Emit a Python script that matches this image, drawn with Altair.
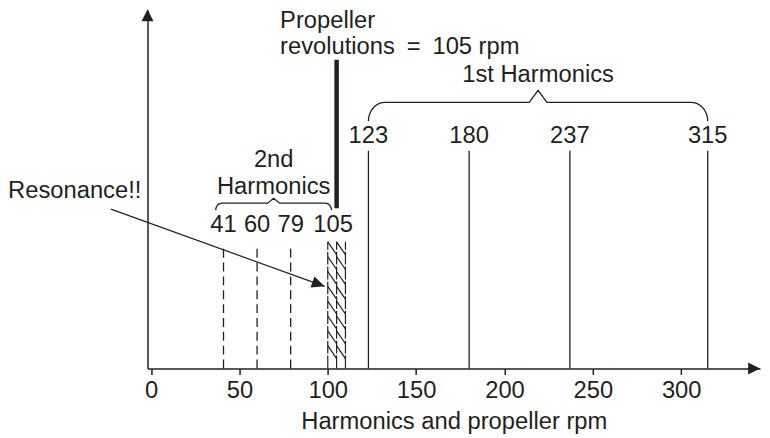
import altair as alt
import pandas as pd
import numpy as np

# ---------------- data ----------------
first_harmonics = [123, 180, 237, 315]
second_harmonics = [41, 60, 79]
second_labels = [41, 60, 79, 105]
propeller_rpm = 105
resonance_band = [100, 110]
x_ticks = [0, 50, 100, 150, 200, 250, 300]
x_title = "Harmonics and propeller rpm"

# ---------------- styling / layout ----------------
FONT = "Liberation Sans"
FS = 24
INK = "#231f20"
X_MIN, X_MAX = -2, 344.6
Y_MIN, Y_MAX = 0, 362
W, H = 619, 362
KX = W / (X_MAX - X_MIN)  # px per x unit (y: 1 px per unit)

xscale = alt.Scale(domain=[X_MIN, X_MAX], nice=False, zero=False)
yscale = alt.Scale(domain=[Y_MIN, Y_MAX], nice=False, zero=False)
xaxis = alt.Axis(values=x_ticks, title=x_title, grid=False, domainColor=INK,
                 domainWidth=1.5, tickColor=INK, tickWidth=1.5, tickSize=6,
                 labelFont=FONT, labelFontSize=FS, labelColor=INK, labelPadding=4,
                 labelFlush=False, labelOverlap=False, titleFont=FONT,
                 titleFontSize=FS, titleFontWeight="normal", titleColor=INK,
                 titlePadding=8, format="d")
yaxis = alt.Axis(ticks=False, labels=False, grid=False, title=None,
                 domainColor=INK, domainWidth=1.5)


def X(f="x"):
    return alt.X(f, type="quantitative", scale=xscale, axis=xaxis)


def Y(f="y"):
    return alt.Y(f, type="quantitative", scale=yscale, axis=yaxis)


def text_layer(df, align):
    return alt.Chart(df).mark_text(font=FONT, fontSize=FS, color=INK, align=align,
                                   baseline="alphabetic").encode(x=X(), y=Y(), text="t:N")


layers = []

# 1st harmonics
df1 = pd.DataFrame({"x": first_harmonics, "y": 0, "y2": 220})
layers.append(alt.Chart(df1).mark_rule(color=INK, strokeWidth=1.3)
              .encode(x=X(), y=Y(), y2=alt.Y2("y2")))
layers.append(text_layer(pd.DataFrame({"x": first_harmonics, "y": 228,
                                       "t": [str(v) for v in first_harmonics]}), "center"))

# 2nd harmonics (dashed)
df2 = pd.DataFrame({"x": second_harmonics, "y": 0, "y2": 122})
layers.append(alt.Chart(df2).mark_rule(color=INK, strokeWidth=1.3, strokeDash=[9, 5])
              .encode(x=X(), y=Y(), y2=alt.Y2("y2")))
layers.append(text_layer(pd.DataFrame({"x": [41, 60, 79, 103], "y": 138,
                                       "t": [str(v) for v in second_labels]}), "center"))

# propeller line
dfp = pd.DataFrame({"x": [propeller_rpm], "y": 162, "y2": 312})
layers.append(alt.Chart(dfp).mark_rule(color=INK, strokeWidth=4.5)
              .encode(x=X(), y=Y(), y2=alt.Y2("y2")))

# hatched resonance band
b0, b1 = resonance_band
bm = (b0 + b1) / 2
hv = pd.DataFrame({"x": [b0, bm, b1], "y": 0, "y2": 128})
layers.append(alt.Chart(hv).mark_rule(color=INK, strokeWidth=1.2, strokeDash=[13, 2])
              .encode(x=X(), y=Y(), y2=alt.Y2("y2")))
rows = []
top = 128
while top - 13 >= 0:
    for cl, cr in [(b0, bm), (bm, b1)]:
        rows.append({"x": cl, "x2": cr, "y": top, "y2": top - 13})
    top -= 15
layers.append(alt.Chart(pd.DataFrame(rows)).mark_rule(color=INK, strokeWidth=1.2)
              .encode(x=X(), x2=alt.X2("x2"), y=Y(), y2=alt.Y2("y2")))


# braces
def brace(bid, xa, xb, y_end, y_mid, y_peak, rx, pw, n=10):
    pts = []
    ry = y_mid - y_end
    xc = (xa + xb) / 2
    for t in np.linspace(0, np.pi / 2, n):
        pts.append((xa + rx * (1 - np.cos(t)), y_end + ry * np.sin(t)))
    pts += [(xc - pw, y_mid), (xc, y_peak), (xc + pw, y_mid)]
    for t in np.linspace(np.pi / 2, 0, n):
        pts.append((xb - rx * (1 - np.cos(t)), y_end + ry * np.sin(t)))
    return [{"b": bid, "o": i, "x": px, "y": py} for i, (px, py) in enumerate(pts)]


br = brace("first", first_harmonics[0], first_harmonics[-1], 250, 269, 281, 9.5, 5)
br += brace("second", 36.6, 102.1, 160, 167, 172, 3.5, 3.4)
layers.append(alt.Chart(pd.DataFrame(br)).mark_line(color=INK, strokeWidth=1.3)
              .encode(x=X(), y=Y(), order="o:Q", detail="b:N"))

# texts
layers.append(text_layer(pd.DataFrame({
    "x": [219, 69.4, 69.4],
    "y": [290, 204, 176],
    "t": ["1st Harmonics", "2nd", "Harmonics"]}), "center"))
layers.append(text_layer(pd.DataFrame({
    "x": [73.0, 73.0, -80.9],
    "y": [344, 318, 172],
    "t": ["Propeller", "revolutions\u2002=\u2002105 rpm", "Resonance!!"]}), "left"))

# resonance arrow
ax0, ay0, ax1, ay1 = -22.7, 161, 98.2, 83
layers.append(alt.Chart(pd.DataFrame({"x": [ax0], "y": [ay0], "x2": [ax1], "y2": [ay1]}))
              .mark_rule(color=INK, strokeWidth=1.2)
              .encode(x=X(), y=Y(), x2=alt.X2("x2"), y2=alt.Y2("y2")))
ang = float(np.degrees(np.arctan2((ay0 - ay1), (ax1 - ax0) * KX)))
layers.append(alt.Chart(pd.DataFrame({"x": [ax1], "y": [ay1]}))
              .mark_point(shape="M-2,-0.9L0,0L-2,0.9Z", filled=True, color=INK, opacity=1,
                          size=169, angle=ang, strokeWidth=0)
              .encode(x=X(), y=Y()))

# axis arrowheads
layers.append(alt.Chart(pd.DataFrame({"x": [X_MAX], "y": [0]}))
              .mark_point(shape="M-2,-1L0,0L-2,1Z", filled=True, color=INK, opacity=1,
                          size=144, strokeWidth=0)
              .encode(x=X(), y=Y()))
layers.append(alt.Chart(pd.DataFrame({"x": [X_MIN], "y": [363]}))
              .mark_point(shape="M-1,2L0,0L1,2Z", filled=True, color=INK, opacity=1,
                          size=144, strokeWidth=0)
              .encode(x=X(), y=Y()))

chart = alt.layer(*layers).properties(
    width=W, height=H,
    autosize=alt.AutoSizeParams(type="none"),
    padding={"left": 141, "top": 0, "right": 2, "bottom": 68},
    background="white",
).configure_view(stroke=None)

chart.save("out.html", embed_options={"renderer": "svg", "actions": False})
